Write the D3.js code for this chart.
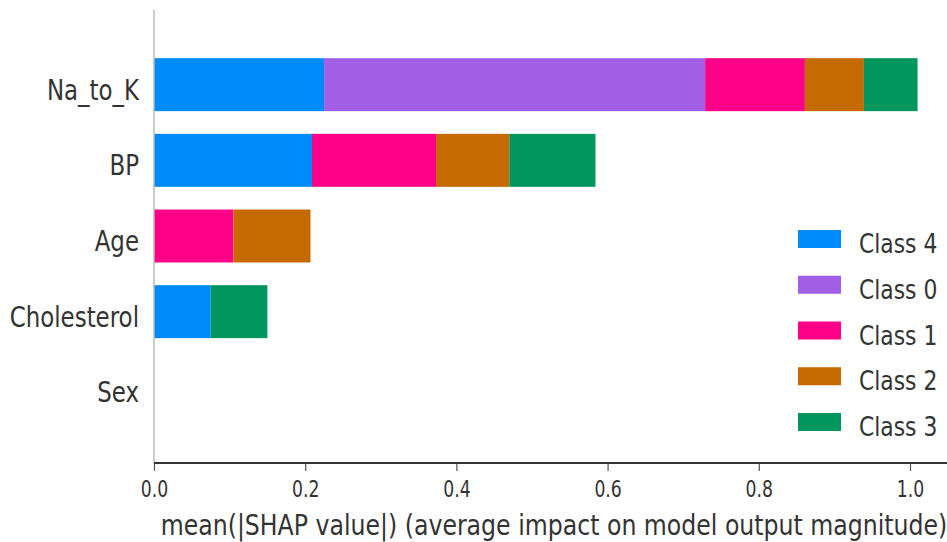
<!DOCTYPE html>
<html>
<head>
<meta charset="utf-8">
<title>SHAP bar summary</title>
<script src="https://cdn.jsdelivr.net/npm/d3@7"></script>
<style>
  html, body { margin: 0; padding: 0; background: #fff; }
  text { font-family: "DejaVu Sans", sans-serif; fill: #333; }
</style>
</head>
<body>
<div id="main"></div>
<script>
!(function () {
  'use strict';
  // - - - - - - - - - -

  // data
  const features = ['Na_to_K', 'BP', 'Age', 'Cholesterol', 'Sex'];
  const classes = ['Class 4', 'Class 0', 'Class 1', 'Class 2', 'Class 3'];
  const class4 = [0.225, 0.209, 0, 0.075, 0];
  const class0 = [0.504, 0, 0, 0, 0];
  const class1 = [0.132, 0.164, 0.105, 0, 0];
  const class2 = [0.078, 0.097, 0.102, 0, 0];
  const class3 = [0.071, 0.114, 0, 0.075, 0];
  const xTicks = [0, 0.2, 0.4, 0.6, 0.8, 1.0];
  const xLabel = 'mean(|SHAP value|) (average impact on model output magnitude)';

  // configuration
  const canvas = {
    context: '#main',
    width: 947,
    height: 542,
    padding: { top: 9, bottom: 79, left: 154 }
  };
  const colors = ['#008bfb', '#a25ee5', '#ff0088', '#c56a00', '#00965e'];

  let svg, xScale, yScale, colorScale;

  function setCanvas() {
    svg = d3.select(canvas.context)
      .append('svg')
      .attr('width', canvas.width)
      .attr('height', canvas.height);
  }

  function setScales() {
    xScale = d3.scaleLinear()
      .domain([0, 1])
      .range([canvas.padding.left, 910]);
    yScale = d3.scalePoint()
      .domain(features)
      .range([canvas.padding.top, canvas.height - canvas.padding.bottom])
      .padding(1);
    colorScale = d3.scaleOrdinal().domain(classes).range(colors);
  }

  function setBars() {
    const series = [class4, class0, class1, class2, class3];
    const rows = features.map(function (f, i) {
      const row = { feature: f };
      classes.forEach(function (c, j) { row[c] = series[j][i]; });
      return row;
    });
    const stacked = d3.stack().keys(classes)(rows);
    const barH = yScale.step() * 0.7;

    svg.append('g')
      .selectAll('g')
      .data(stacked)
      .join('g')
      .attr('fill', function (d) { return colorScale(d.key); })
      .selectAll('rect')
      .data(function (d) { return d.filter(function (p) { return p[1] - p[0] > 0; }); })
      .join('rect')
      .attr('x', function (d) { return xScale(d[0]); })
      .attr('y', function (d) { return yScale(d.data.feature) - barH / 2; })
      .attr('width', function (d) { return xScale(d[1]) - xScale(d[0]); })
      .attr('height', barH);
  }

  function setYAxis() {
    // light vertical line at zero
    svg.append('line')
      .attr('x1', xScale(0)).attr('x2', xScale(0))
      .attr('y1', canvas.padding.top + 1)
      .attr('y2', canvas.height - canvas.padding.bottom)
      .attr('stroke', '#bbbbbb')
      .attr('stroke-width', 1.5);

    svg.append('g')
      .selectAll('text')
      .data(features)
      .join('text')
      .attr('transform', function (d) {
        return 'translate(139,' + (yScale(d) + 15) + ') scale(0.79,1)';
      })
      .attr('text-anchor', 'end')
      .style('font-size', '29px')
      .text(function (d) { return d; });
  }

  function setXAxis() {
    const y0 = canvas.height - canvas.padding.bottom;
    const g = svg.append('g')
      .attr('transform', 'translate(0,' + y0 + ')')
      .call(d3.axisBottom(xScale)
        .tickValues(xTicks)
        .tickFormat(d3.format('.1f'))
        .tickSize(8)
        .tickSizeOuter(0));
    g.select('.domain').remove();
    g.append('line')
      .attr('x1', xScale(0)).attr('x2', canvas.width)
      .attr('stroke', '#333')
      .attr('stroke-width', 2);
    g.selectAll('.tick line').attr('stroke', '#555').attr('stroke-width', 1.2);
    g.selectAll('.tick text')
      .attr('y', 34)
      .attr('dy', 0)
      .attr('transform', 'scale(0.75,1)')
      .style('font-size', '23px')
      .attr('fill', '#333');

    svg.append('text')
      .attr('transform', 'translate(' + 554 + ',535) scale(0.815,1)')
      .attr('text-anchor', 'middle')
      .style('font-size', '29px')
      .text(xLabel);
  }

  function setLegend() {
    const step = 45.75;
    const item = svg.append('g')
      .selectAll('g')
      .data(classes)
      .join('g')
      .attr('transform', function (d, i) { return 'translate(798,' + (239 + i * step) + ')'; });
    item.append('rect')
      .attr('x', 0).attr('y', -9)
      .attr('width', 43).attr('height', 18)
      .attr('fill', function (d) { return colorScale(d); });
    item.append('text')
      .attr('transform', 'translate(61,14) scale(0.81,1)')
      .style('font-size', '27px')
      .text(function (d) { return d; });
  }

  // control
  setCanvas();
  setScales();
  setBars();
  setYAxis();
  setXAxis();
  setLegend();

  // - - - - - - - - - -
}());
</script>
</body>
</html>
